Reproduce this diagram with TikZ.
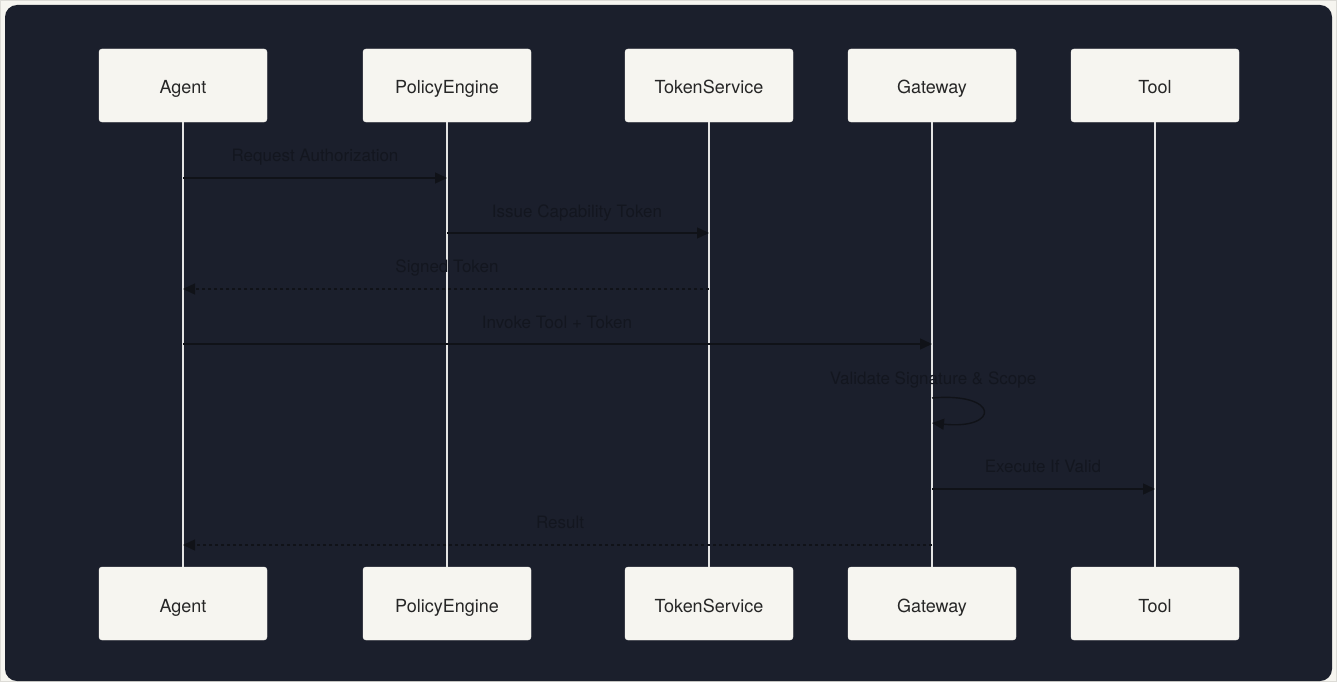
\documentclass[tikz,border=0pt]{standalone}
\usepackage{fontspec}
\setmainfont{TeX Gyre Heros}
\usetikzlibrary{arrows.meta}
\definecolor{pagebg}{HTML}{F6F5F0}
\definecolor{pageedge}{HTML}{DCDBD6}
\definecolor{panel}{HTML}{1B1F2C}
\definecolor{boxfill}{HTML}{F6F5F0}
\definecolor{lifeline}{HTML}{E4E4E4}
\definecolor{msgline}{HTML}{101218}
\definecolor{msgtext}{HTML}{13161F}
\begin{document}
\begin{tikzpicture}[x=1pt,y=-1pt,
  actor/.style={draw=boxfill,fill=boxfill,rounded corners=3pt,minimum width=168pt,minimum height=73pt,font=\fontsize{18}{20}\selectfont,text=black!85,inner sep=0pt,text height=17pt,text depth=0pt},
  life/.style={draw=lifeline,line width=2pt},
  msg/.style={draw=msgline,line width=1.4pt,-{Triangle[length=12pt,width=11pt]}},
  ret/.style={msg,dash pattern=on 3pt off 3pt},
  lbl/.style={font=\fontsize{17}{20}\selectfont,text=msgtext,inner sep=0pt,text height=12pt,text depth=0pt}]
\useasboundingbox (0,0) rectangle (1337,682);
\fill[pagebg,draw=pageedge,line width=1pt] (0.5,0.5) rectangle (1336.5,681.5);
\fill[panel,rounded corners=12pt] (5,5) rectangle (1332,681);
% top actors
\node[actor] (a1) at (183,85.5) {Agent};
\node[actor] (p1) at (447,85.5) {PolicyEngine};
\node[actor] (t1) at (709,85.5) {TokenService};
\node[actor] (g1) at (932,85.5) {Gateway};
\node[actor] (o1) at (1155,85.5) {Tool};
% bottom actors
\node[actor] (a2) at (183,603.5) {Agent};
\node[actor] (p2) at (447,603.5) {PolicyEngine};
\node[actor] (t2) at (709,603.5) {TokenService};
\node[actor] (g2) at (932,603.5) {Gateway};
\node[actor] (o2) at (1155,603.5) {Tool};
% lifelines
\foreach \n in {a,p,t,g,o} \draw[life] (\n1.south) -- (\n2.north);
% message anchors
\coordinate (m1s) at (183,178); \coordinate (m1e) at (447,178);
\coordinate (m2s) at (447,233); \coordinate (m2e) at (709,233);
\coordinate (m3s) at (709,289); \coordinate (m3e) at (183,289);
\coordinate (m4s) at (183,344); \coordinate (m4e) at (932,344);
\coordinate (m5s) at (932,398); \coordinate (m5e) at (932,423);
\coordinate (m6s) at (932,489); \coordinate (m6e) at (1155,489);
\coordinate (m7s) at (932,545); \coordinate (m7e) at (183,545);
\draw[msg] (m1s) -- (m1e);
\node[lbl] (l1) at (315,155) {Request Authorization};
\draw[msg] (m2s) -- (m2e);
\node[lbl] (l2) at (577,211) {Issue Capability Token};
\draw[ret] (m3s) -- (m3e);
\node[lbl] (l3) at (447,266) {Signed Token};
\draw[msg] (m4s) -- (m4e);
\node[lbl] (l4) at (557,322) {Invoke Tool + Token};
\draw[msg] (m5s) .. controls (1000,392) and (1000,430) .. (m5e);
\node[lbl] (l5) at (933,378) {Validate Signature \& Scope};
\draw[msg] (m6s) -- (m6e);
\node[lbl] (l6) at (1043,466) {Execute If Valid};
\draw[ret] (m7s) -- (m7e);
\node[lbl] (l7) at (560,522) {Result};
\end{tikzpicture}
\end{document}
